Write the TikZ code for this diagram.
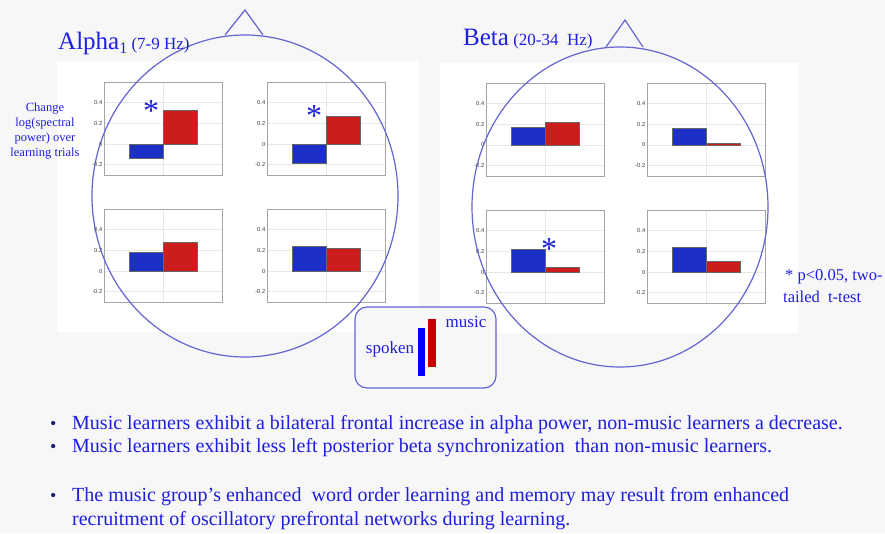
\documentclass[tikz,border=0pt]{standalone}
\usepackage{fontspec}
\setmainfont{Liberation Serif}
\newfontfamily\ticksf{Liberation Sans}
\definecolor{bg}{RGB}{247,247,247}
\definecolor{txtblue}{RGB}{30,30,225}
\definecolor{headblue}{RGB}{100,100,210}
\definecolor{barblue}{RGB}{28,48,200}
\definecolor{barred}{RGB}{205,28,28}
\definecolor{gridc}{RGB}{232,232,232}
\definecolor{boxc}{RGB}{165,165,165}
\definecolor{tickc}{RGB}{60,60,60}
\definecolor{legblue}{RGB}{0,0,255}
\definecolor{legred}{RGB}{200,0,0}
\definecolor{dotc}{RGB}{30,30,110}
\tikzset{
  head/.style={draw=headblue, line width=1.2pt},
  panel/.style={fill=white, draw=none},
  ticklab/.style={anchor=east, inner sep=0pt, text=tickc, font=\ticksf\fontsize{5.8}{6}\selectfont},
  bluebar/.style={fill=barblue, draw=black!60, line width=0.5pt},
  redbar/.style={fill=barred, draw=black!60, line width=0.5pt},
  star/.style={text=txtblue, inner sep=0pt, font=\fontsize{32}{32}\selectfont},
  bullettext/.style={anchor=base west, inner sep=0pt, text=txtblue, font=\fontsize{20}{20}\selectfont},
  bulletdot/.style={anchor=base west, inner sep=0pt, text=dotc, font=\fontsize{18}{18}\selectfont},
  note/.style={anchor=base west, inner sep=0pt, text=txtblue, font=\fontsize{16.5}{16.5}\selectfont},
  legendbox/.style={draw=headblue, line width=1.2pt, rounded corners=12pt, fill=bg},
}
\newcommand{\barchart}[4]{%
  \begin{scope}[shift={(#1,#2)}]
    \fill[white] (0,0) rectangle (118,93);
    \foreach \v in {20.7,41.3,62,82.7} \draw[gridc, line width=0.5pt] (0,\v) -- (118,\v);
    \draw[gridc, line width=0.5pt] (59,0) -- (59,93);
    \draw[boxc, line width=0.8pt] (0,0) rectangle (118,93);
    \foreach \v/\l in {20.7/0.4, 41.3/0.2, 62/0, 82.7/-0.2} \node[ticklab] at (-1.5,\v) {\l};
    \filldraw[bluebar] (25,62) rectangle (59,{62-(#3)*103.3});
    \filldraw[redbar] (59,62) rectangle (93,{62-(#4)*103.3});
  \end{scope}}
\begin{document}
\begin{tikzpicture}[x=1pt, y=-1pt]
\useasboundingbox (0,0) rectangle (885,533);
\fill[bg] (0,0) rectangle (885,533);
% panels
\fill[panel] (57,61) rectangle (418,332);
\fill[panel] (440,63) rectangle (798,333);
% charts
\barchart{104}{82}{-0.14}{0.33}
\barchart{267}{82}{-0.19}{0.27}
\barchart{104}{209}{0.18}{0.28}
\barchart{267}{209}{0.235}{0.22}
\barchart{486}{83}{0.17}{0.22}
\barchart{647}{83}{0.16}{0.02}
\barchart{486}{210}{0.22}{0.05}
\barchart{647}{210}{0.24}{0.10}
% heads
\draw[head] (245,196) ellipse [x radius=153, y radius=161];
\draw[head] (225,35) -- (245,10) -- (263,35);
\draw[head] (620,207) ellipse [x radius=148, y radius=160];
\draw[head] (606,47) -- (625,20) -- (643,47);
% asterisks
\node[star] (s1) at (151,111) {*};
\node[star] (s2) at (314,116) {*};
\node[star] (s3) at (549,249) {*};
% titles
\node[anchor=base west, inner sep=0pt, text=txtblue] (alpha) at (58,49)
  {\fontsize{25}{25}\selectfont Alpha\raisebox{-4pt}{\fontsize{16}{16}\selectfont 1}\fontsize{17}{17}\selectfont\ (7-9 Hz)};
\node[anchor=base west, inner sep=0pt, text=txtblue] (beta) at (463,45)
  {\fontsize{25}{25}\selectfont Beta\fontsize{17}{17}\selectfont\ (20-34\ \ Hz)};
% y label
\node[align=center, text=txtblue, inner sep=0pt, font=\fontsize{12.5}{15}\selectfont] (ylab) at (45,131.5)
  {Change\\log(spectral\\power) over\\learning trials};
% legend
\draw[legendbox] (355,307) rectangle (496,388);
\fill[legblue] (418,328) rectangle (425,376);
\fill[legred] (428,319) rectangle (436,367);
\node[text=txtblue, inner sep=0pt, font=\fontsize{17}{17}\selectfont] (spoken) at (390,349) {spoken};
\node[text=txtblue, inner sep=0pt, font=\fontsize{17}{17}\selectfont] (music) at (466,322) {music};
% note
\node[note] (n1) at (785,280) {* p<0.05, two-};
\node[note] (n2) at (783,302) {tailed\ \ t-test};
% bullets
\node[bulletdot] (d1) at (50,429) {•};
\node[bullettext] (b1) at (72,429) {Music learners exhibit a bilateral frontal increase in alpha power, non-music learners a decrease.};
\node[bulletdot] (d2) at (50,452) {•};
\node[bullettext] (b2) at (72,452) {Music learners exhibit less left posterior beta synchronization\ \ than non-music learners.};
\node[bulletdot] (d3) at (50,501) {•};
\node[bullettext] (b3) at (72,501) {The music group’s enhanced\ \ word order learning and memory may result from enhanced};
\node[bullettext] (b4) at (72,525) {recruitment of oscillatory prefrontal networks during learning.};
\end{tikzpicture}
\end{document}
